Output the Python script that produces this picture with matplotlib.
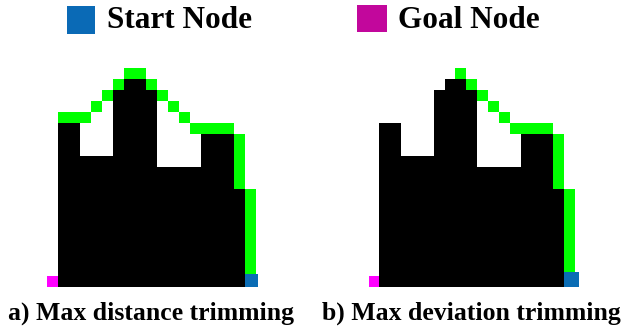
import matplotlib.pyplot as plt
from matplotlib.patches import Rectangle

# Data: grid of 19 columns x 20 rows
n_cols, n_rows = 19, 20
obstacle_cols = list(range(19))
obstacle_heights = [0, 15, 15, 12, 12, 12, 18, 19, 19, 18, 11, 11, 11, 11, 14, 14, 14, 9, 0]

# path cells (col, row), from start node towards goal
path_a = [(18, r) for r in range(1, 9)] + [(17, r) for r in range(9, 14)] + \
         [(16, 14), (15, 14), (14, 14), (13, 14), (12, 15), (11, 16), (10, 17),
          (9, 18), (8, 19), (7, 19), (6, 18), (5, 17), (4, 16), (3, 15), (2, 15), (1, 15)]
path_b = [(18, r) for r in range(1, 9)] + [(17, r) for r in range(9, 14)] + \
         [(16, 14), (15, 14), (14, 14), (13, 14), (12, 15), (11, 16), (10, 17),
          (9, 18), (8, 19)]
start = (18, 0)
goal = (0, 0)
titles = ["a) Max distance trimming", "b) Max deviation trimming"]
start_sizes = [1.2, 1.4]

W, H = 621, 329
fig = plt.figure(figsize=(W / 100, H / 100), dpi=100)
plt.rcParams['font.family'] = ['Liberation Serif', 'DejaVu Serif']

panels = [(46.5, 209.0), (368.5, 206.5)]
top_px, bottom_px = 68.3, 287.0
for (left, width), path, title, ssz in zip(panels, [path_a, path_b], titles, start_sizes):
    ax = fig.add_axes([left / W, (H - bottom_px) / H, width / W, (bottom_px - top_px) / H])
    ax.bar(obstacle_cols, obstacle_heights, width=1, align='edge', color='black', linewidth=0)
    pc = [p[0] for p in path]
    pr = [p[1] for p in path]
    ax.bar(pc, [1] * len(path), bottom=pr, width=1, align='edge', color='#00ff00', linewidth=0)
    ax.add_patch(Rectangle(goal, 1, 1, color='#ff00ff', linewidth=0, zorder=3))
    ax.add_patch(Rectangle(start, ssz, ssz, color='#0a6cb4', linewidth=0, zorder=3, clip_on=False))
    ax.set_xlim(0, n_cols)
    ax.set_ylim(0, n_rows)
    ax.axis('off')
    fig.text((left + width / 2) / W, (H - 313) / H, title, ha='center', va='center',
             fontsize=18.5, fontweight='bold')

# Legend
fig.add_artist(Rectangle((66.7 / W, (H - 33.5) / H), 28.5 / W, 27 / H,
                         transform=fig.transFigure, color='#0a6ab6', linewidth=0))
fig.text(106.5 / W, (H - 20.5) / H, "Start Node", ha='left', va='center',
         fontsize=22.5, fontweight='bold')
fig.add_artist(Rectangle((356.7 / W, (H - 32) / H), 30 / W, 27 / H,
                         transform=fig.transFigure, color='#c2079c', linewidth=0))
fig.text(398 / W, (H - 20.5) / H, "Goal Node", ha='left', va='center',
         fontsize=22.5, fontweight='bold')

fig.savefig("out.png", dpi=100)
